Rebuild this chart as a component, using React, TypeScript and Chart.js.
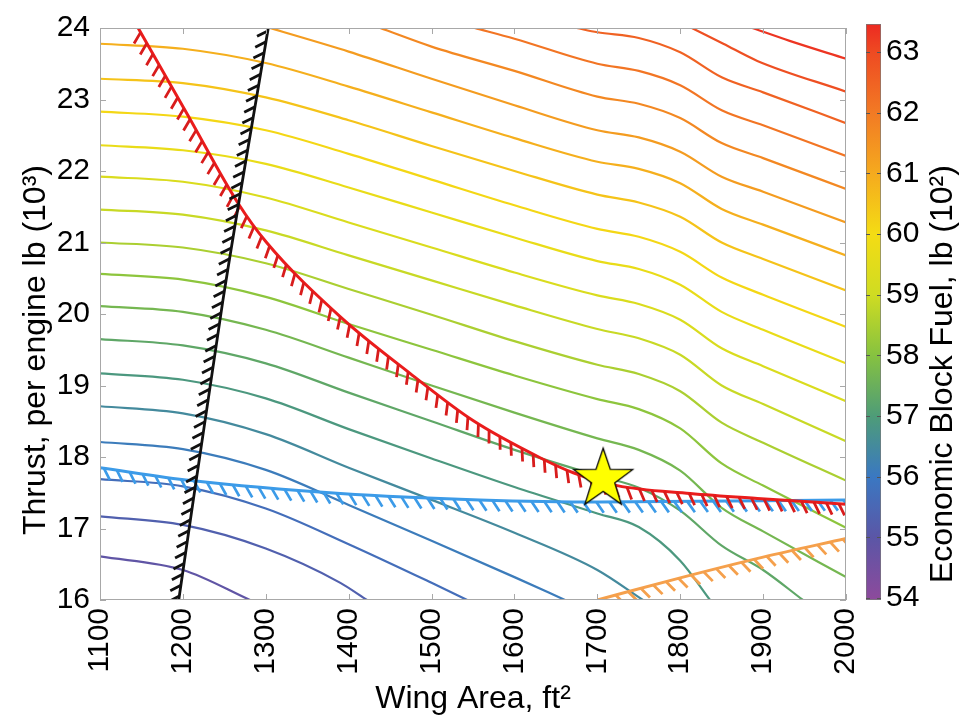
import React, { useEffect, useRef } from "react";
import { Chart, registerables } from "chart.js";

Chart.register(...registerables);

const FONT = 'Arial, "Liberation Sans", Helvetica, sans-serif';

// ---------- axes ----------
const xLimits = [1100, 2000];
const yLimits = [16, 24];
const xTickValues = [1100, 1200, 1300, 1400, 1500, 1600, 1700, 1800, 1900, 2000];
const yTickValues = [16, 17, 18, 19, 20, 21, 22, 23, 24];
const xTitle = "Wing Area, ft\u00B2";
const yTitle = "Thrust, per engine lb (10\u00B3)";

// ---------- colour bar ----------
const cbLimits = [53.97, 63.46];
const cbTickValues = [54, 55, 56, 57, 58, 59, 60, 61, 62, 63];
const cbTitle = "Economic Block Fuel, lb (10\u00B2)";
const cmapValues = [54, 55, 56, 57, 58, 59, 60, 61, 62, 63, 63.46];
const cmapColors = ["#8c4a9c", "#5b56a6", "#3a78c2", "#4e9c78", "#86c240", "#cfdc22", "#f4dc14", "#f5aa1e", "#f27a24", "#ee4a22", "#ec2a22"];

// ---------- contour lines of economic block fuel (x: wing area, y: thrust) ----------
const fuel549 = [[1100, 16.61], [1200, 16.42], [1281, 16.0]];
const fuel553 = [[1100, 17.17], [1200, 17.05], [1300, 16.72], [1390, 16.24], [1422, 16.0]];
const fuel557 = [[1100, 17.69], [1200, 17.59], [1300, 17.28], [1400, 16.78], [1500, 16.24], [1543, 16.0]];
const fuel561 = [[1100, 18.21], [1200, 18.11], [1300, 17.82], [1400, 17.33], [1500, 16.83], [1600, 16.32], [1661, 16.0]];
const fuel565 = [[1100, 18.71], [1200, 18.61], [1300, 18.32], [1400, 17.85], [1500, 17.4], [1600, 16.94], [1700, 16.42], [1755, 16.0]];
const fuel569 = [[1100, 19.17], [1200, 19.08], [1300, 18.82], [1400, 18.39], [1500, 17.98], [1600, 17.58], [1700, 17.21], [1750, 17.02], [1800, 16.55], [1836, 16.0]];
const fuel573 = [[1100, 19.65], [1200, 19.56], [1300, 19.31], [1400, 18.9], [1500, 18.5], [1600, 18.1], [1700, 17.74], [1750, 17.57], [1800, 17.25], [1850, 16.76], [1900, 16.42], [1948, 16.0]];
const fuel577 = [[1100, 20.11], [1200, 20.03], [1300, 19.78], [1400, 19.39], [1500, 19.0], [1600, 18.62], [1700, 18.26], [1750, 18.1], [1800, 17.81], [1850, 17.29], [1900, 16.96], [2000, 16.32]];
const fuel581 = [[1100, 20.56], [1200, 20.48], [1300, 20.24], [1400, 19.86], [1500, 19.5], [1600, 19.14], [1700, 18.81], [1750, 18.67], [1800, 18.4], [1850, 17.91], [1900, 17.6], [2000, 17.01]];
const fuel585 = [[1100, 21.0], [1200, 20.93], [1300, 20.71], [1400, 20.35], [1500, 19.99], [1600, 19.62], [1700, 19.29], [1750, 19.16], [1800, 18.92], [1850, 18.48], [1900, 18.2], [2000, 17.67]];
const fuel589 = [[1100, 21.46], [1200, 21.39], [1300, 21.17], [1400, 20.82], [1500, 20.47], [1600, 20.12], [1700, 19.79], [1750, 19.66], [1800, 19.43], [1850, 19.0], [1900, 18.74], [2000, 18.22]];
const fuel593 = [[1100, 21.92], [1200, 21.85], [1300, 21.63], [1400, 21.28], [1500, 20.93], [1600, 20.58], [1700, 20.26], [1750, 20.14], [1800, 19.92], [1850, 19.52], [1900, 19.27], [2000, 18.78]];
const fuel597 = [[1100, 22.36], [1200, 22.29], [1300, 22.1], [1400, 21.77], [1500, 21.42], [1600, 21.07], [1700, 20.74], [1750, 20.63], [1800, 20.41], [1850, 20.03], [1900, 19.78], [2000, 19.31]];
const fuel601 = [[1100, 22.83], [1200, 22.76], [1300, 22.57], [1400, 22.24], [1500, 21.88], [1600, 21.52], [1700, 21.19], [1750, 21.08], [1800, 20.87], [1850, 20.51], [1900, 20.27], [2000, 19.82]];
const fuel605 = [[1100, 23.29], [1200, 23.23], [1300, 23.03], [1400, 22.71], [1500, 22.35], [1600, 22.0], [1700, 21.67], [1750, 21.56], [1800, 21.36], [1850, 21.0], [1900, 20.77], [2000, 20.33]];
const fuel609 = [[1100, 23.78], [1200, 23.71], [1300, 23.51], [1400, 23.18], [1500, 22.82], [1600, 22.46], [1700, 22.13], [1750, 22.03], [1800, 21.83], [1850, 21.47], [1900, 21.25], [2000, 20.82]];
const fuel613 = [[1305, 24.0], [1400, 23.67], [1500, 23.29], [1600, 22.92], [1700, 22.57], [1750, 22.47], [1800, 22.27], [1850, 21.92], [1900, 21.71], [2000, 21.28]];
const fuel617 = [[1438, 24.0], [1500, 23.74], [1600, 23.4], [1700, 23.04], [1750, 22.94], [1800, 22.74], [1850, 22.39], [1900, 22.18], [2000, 21.75]];
const fuel621 = [[1552, 24.0], [1600, 23.85], [1700, 23.5], [1750, 23.4], [1800, 23.2], [1850, 22.85], [1900, 22.64], [2000, 22.21]];
const fuel625 = [[1675, 24.0], [1700, 23.94], [1750, 23.86], [1800, 23.66], [1850, 23.31], [1900, 23.1], [2000, 22.67]];
const fuel629 = [[1814, 24.0], [1852, 23.78], [1893, 23.54], [2000, 23.11]];
const fuel633 = [[1887, 24.0], [1932, 23.82], [2000, 23.57]];

const contourLevels = [54.9, 55.3, 55.7, 56.1, 56.5, 56.9, 57.3, 57.7, 58.1, 58.5, 58.9, 59.3, 59.7, 60.1, 60.5, 60.9, 61.3, 61.7, 62.1, 62.5, 62.9, 63.3];
const contourLines = [fuel549, fuel553, fuel557, fuel561, fuel565, fuel569, fuel573, fuel577, fuel581, fuel585, fuel589, fuel593, fuel597, fuel601, fuel605, fuel609, fuel613, fuel617, fuel621, fuel625, fuel629, fuel633];

// ---------- constraint boundaries ----------
const landingConstraint = [[1195, 16.0], [1248, 20.17], [1303, 24.0]];
const takeoffConstraint = [[1146, 24.0], [1206, 22.78], [1266, 21.56], [1301, 21.0], [1390, 19.96], [1474, 19.17], [1550, 18.51], [1631, 17.99], [1671, 17.78], [1724, 17.6], [1812, 17.49], [1893, 17.42], [2000, 17.34]];
const climbConstraint = [[1100, 17.85], [1210, 17.67], [1390, 17.49], [1558, 17.4], [1703, 17.37], [2000, 17.4]];
const fuelVolumeConstraint = [[1700, 16.0], [1800, 16.31], [1900, 16.6], [2000, 16.86]];

// ---------- optimum design ----------
const optimumDesign = [[1707, 17.69]];

// ---------- helpers ----------
function hexToRgb(h: string) {
  const n = parseInt(h.slice(1), 16);
  return [(n >> 16) & 255, (n >> 8) & 255, n & 255];
}
function colorAt(v: number) {
  if (v <= cmapValues[0]) return cmapColors[0];
  for (let i = 1; i < cmapValues.length; i++) {
    if (v <= cmapValues[i]) {
      const t = (v - cmapValues[i - 1]) / (cmapValues[i] - cmapValues[i - 1]);
      const a = hexToRgb(cmapColors[i - 1]);
      const b = hexToRgb(cmapColors[i]);
      const c = a.map((x, k) => Math.round(x + (b[k] - x) * t));
      return `rgb(${c[0]},${c[1]},${c[2]})`;
    }
  }
  return cmapColors[cmapColors.length - 1];
}
const toXY = (arr: number[][]) => arr.map(([x, y]) => ({ x, y }));

function makeStar(): HTMLCanvasElement {
  const R = 31, r = 12.2, size = 72;
  const c = document.createElement("canvas");
  c.width = size;
  c.height = size;
  const g = c.getContext("2d")!;
  g.beginPath();
  for (let i = 0; i < 10; i++) {
    const ang = -Math.PI / 2 + (i * Math.PI) / 5;
    const rad = i % 2 === 0 ? R : r;
    const x = size / 2 + rad * Math.cos(ang);
    const y = size / 2 + rad * Math.sin(ang);
    if (i === 0) g.moveTo(x, y);
    else g.lineTo(x, y);
  }
  g.closePath();
  g.fillStyle = "#ffff00";
  g.fill();
  g.strokeStyle = "#000";
  g.lineWidth = 1.3;
  g.stroke();
  return c;
}

// hatch marks along a constraint line (drawn right after that dataset)
const hatchPlugin = {
  id: "hatch",
  afterDatasetDraw(chart: any, args: any) {
    const ds = chart.data.datasets[args.index];
    const h = ds.hatch;
    if (!h) return;
    const meta = args.meta;
    try {
      meta.dataset.updateControlPoints(chart.chartArea, "x");
    } catch (e) {}
    const pts = meta.data;
    const poly: number[][] = [];
    for (let i = 0; i < pts.length; i++) {
      const p = pts[i];
      if (i === 0) {
        poly.push([p.x, p.y]);
        continue;
      }
      const q = pts[i - 1];
      const c1x = q.cp2x ?? q.x, c1y = q.cp2y ?? q.y;
      const c2x = p.cp1x ?? p.x, c2y = p.cp1y ?? p.y;
      for (let k = 1; k <= 30; k++) {
        const t = k / 30, u = 1 - t;
        const x = u * u * u * q.x + 3 * u * u * t * c1x + 3 * u * t * t * c2x + t * t * t * p.x;
        const y = u * u * u * q.y + 3 * u * u * t * c1y + 3 * u * t * t * c2y + t * t * t * p.y;
        poly.push([x, y]);
      }
    }
    const ctx = chart.ctx;
    const a = chart.chartArea;
    ctx.save();
    ctx.beginPath();
    ctx.rect(a.left, a.top, a.right - a.left, a.bottom - a.top);
    ctx.clip();
    ctx.strokeStyle = h.color;
    ctx.lineWidth = h.width;
    const rad = (h.angle * Math.PI) / 180;
    const cs = Math.cos(rad), sn = Math.sin(rad);
    let next = h.offset;
    let acc = 0;
    ctx.beginPath();
    for (let i = 1; i < poly.length; i++) {
      const [x0, y0] = poly[i - 1];
      const [x1, y1] = poly[i];
      const seg = Math.hypot(x1 - x0, y1 - y0);
      if (seg === 0) continue;
      const dx = (x1 - x0) / seg, dy = (y1 - y0) / seg;
      while (next <= acc + seg) {
        const t = next - acc;
        const px = x0 + dx * t, py = y0 + dy * t;
        const tx = dx * cs - dy * sn, ty = dx * sn + dy * cs;
        ctx.moveTo(px, py);
        ctx.lineTo(px + tx * h.len, py + ty * h.len);
        next += h.spacing;
      }
      acc += seg;
    }
    ctx.stroke();
    ctx.restore();
  },
};

// frame, inner tick marks and axis titles
const framePlugin = {
  id: "frame",
  afterDraw(chart: any) {
    const { ctx, chartArea: a, scales } = chart;
    ctx.save();
    ctx.strokeStyle = "#a8a8a8";
    ctx.lineWidth = 1;
    ctx.strokeRect(Math.round(a.left) + 0.5, Math.round(a.top) + 0.5, Math.round(a.right - a.left) - 1, Math.round(a.bottom - a.top) - 1);
    ctx.beginPath();
    xTickValues.forEach((v) => {
      const x = Math.round(scales.x.getPixelForValue(v)) + 0.5;
      ctx.moveTo(x, a.bottom);
      ctx.lineTo(x, a.bottom - 6);
      ctx.moveTo(x, a.top);
      ctx.lineTo(x, a.top + 6);
    });
    yTickValues.forEach((v) => {
      const y = Math.round(scales.y.getPixelForValue(v)) + 0.5;
      ctx.moveTo(a.left, y);
      ctx.lineTo(a.left + 6, y);
      ctx.moveTo(a.right, y);
      ctx.lineTo(a.right - 6, y);
    });
    ctx.stroke();

    ctx.fillStyle = "#000";
    ctx.font = `32px ${FONT}`;
    ctx.textAlign = "center";
    ctx.textBaseline = "alphabetic";
    ctx.fillText(xTitle, (a.left + a.right) / 2, 708);
    ctx.translate(45, 535);
    ctx.rotate(-Math.PI / 2);
    ctx.textAlign = "left";
    ctx.fillText(yTitle, 0, 0);
    ctx.restore();
  },
};

const colorbarPlugin = {
  id: "cbdecor",
  afterDraw(chart: any) {
    const { ctx, chartArea: a, scales } = chart;
    ctx.save();
    ctx.strokeStyle = "#555";
    ctx.lineWidth = 1;
    ctx.beginPath();
    cbTickValues.forEach((v) => {
      const y = Math.round(scales.y.getPixelForValue(v)) + 0.5;
      ctx.moveTo(a.left, y);
      ctx.lineTo(a.left + 4, y);
      ctx.moveTo(a.right, y);
      ctx.lineTo(a.right - 4, y);
    });
    ctx.stroke();
    ctx.fillStyle = "#000";
    ctx.font = `32px ${FONT}`;
    ctx.textBaseline = "alphabetic";
    ctx.textAlign = "left";
    ctx.translate(106, 583);
    ctx.rotate(-Math.PI / 2);
    ctx.fillText(cbTitle, 0, 0);
    ctx.restore();
  },
};

const plainLabel = (v: any) => String(v);

export default function App() {
  const mainRef = useRef<HTMLCanvasElement>(null);
  const cbRef = useRef<HTMLCanvasElement>(null);

  useEffect(() => {
    document.body.style.margin = "0";
    const star = makeStar();

    const contourSets = contourLines.map((line, i) => ({
      label: `fuel ${contourLevels[i]}`,
      data: toXY(line),
      borderColor: colorAt(contourLevels[i]),
      borderWidth: 2.2,
      pointRadius: 0,
      cubicInterpolationMode: "monotone",
      fill: false,
      order: 10,
    }));

    const constraintSets = [
      {
        label: "landing",
        data: toXY(landingConstraint),
        borderColor: "#111111",
        borderWidth: 2.8,
        pointRadius: 0,
        cubicInterpolationMode: "monotone",
        order: 1,
        hatch: { color: "#111111", width: 2.8, len: 12, spacing: 11, angle: 234, offset: 4 },
      },
      {
        label: "takeoff",
        data: toXY(takeoffConstraint),
        borderColor: "#ea1c1c",
        borderWidth: 3,
        pointRadius: 0,
        cubicInterpolationMode: "monotone",
        order: 2,
        hatch: { color: "#d81c1c", width: 2.8, len: 13, spacing: 12.5, angle: 60, offset: 5 },
      },
      {
        label: "climb",
        data: toXY(climbConstraint),
        borderColor: "#3c9be8",
        borderWidth: 3,
        pointRadius: 0,
        cubicInterpolationMode: "monotone",
        order: 3,
        hatch: { color: "#3c9be8", width: 2.7, len: 13, spacing: 13, angle: 55, offset: 4 },
      },
      {
        label: "fuel volume",
        data: toXY(fuelVolumeConstraint),
        borderColor: "#f5a04c",
        borderWidth: 3,
        pointRadius: 0,
        cubicInterpolationMode: "monotone",
        order: 3,
        hatch: { color: "#f5a04c", width: 2.8, len: 13, spacing: 13, angle: 60, offset: 6 },
      },
    ];

    const starSet = {
      label: "optimum",
      data: toXY(optimumDesign),
      showLine: false,
      pointStyle: star,
      pointRadius: 10,
      order: 0,
    };

    const main = new Chart(mainRef.current as HTMLCanvasElement, {
      type: "line",
      data: { datasets: [starSet, ...constraintSets, ...contourSets] as any },
      options: {
        responsive: false,
        maintainAspectRatio: false,
        animation: false,
        devicePixelRatio: 1,
        layout: { padding: { left: 0, right: 113, top: 24, bottom: 0 } },
        plugins: { legend: { display: false }, tooltip: { enabled: false } },
        scales: {
          x: {
            type: "linear",
            min: xLimits[0],
            max: xLimits[1],
            afterBuildTicks: (s: any) => {
              s.ticks = xTickValues.map((v) => ({ value: v }));
            },
            afterFit: (s: any) => {
              s.height = 117;
            },
            ticks: {
              font: { family: FONT, size: 30 },
              color: "#000",
              minRotation: 90,
              maxRotation: 90,
              padding: 8,
              autoSkip: false,
              callback: plainLabel,
            },
            grid: { display: false, drawTicks: false },
            border: { display: false },
          },
          y: {
            type: "linear",
            min: yLimits[0],
            max: yLimits[1],
            afterBuildTicks: (s: any) => {
              s.ticks = yTickValues.map((v) => ({ value: v }));
            },
            afterFit: (s: any) => {
              s.width = 100;
            },
            ticks: { font: { family: FONT, size: 30 }, color: "#000", padding: 10, autoSkip: false, callback: plainLabel },
            grid: { display: false, drawTicks: false },
            border: { display: false },
          },
        },
      } as any,
      plugins: [hatchPlugin, framePlugin],
    });

    const cb = new Chart(cbRef.current as HTMLCanvasElement, {
      type: "bar",
      data: {
        labels: [""],
        datasets: [
          {
            data: [[cbLimits[0], cbLimits[1]]] as any,
            backgroundColor: (c: any) => {
              const ch = c.chart;
              const ys = ch.scales && ch.scales.y;
              if (!ch.chartArea || !ys) return cmapColors[5];
              const y0 = ys.getPixelForValue(cbLimits[0]);
              const y1 = ys.getPixelForValue(cbLimits[1]);
              const g = ch.ctx.createLinearGradient(0, y0, 0, y1);
              cmapValues.forEach((v, i) => {
                const t = Math.min(1, Math.max(0, (v - cbLimits[0]) / (cbLimits[1] - cbLimits[0])));
                g.addColorStop(t, cmapColors[i]);
              });
              return g;
            },
            borderColor: "#7a7a7a",
            borderWidth: 1,
            borderSkipped: false,
            barPercentage: 1,
            categoryPercentage: 1,
          },
        ],
      },
      options: {
        responsive: false,
        maintainAspectRatio: false,
        animation: false,
        devicePixelRatio: 1,
        layout: { padding: { left: 20, right: 0, top: 24, bottom: 117 } },
        plugins: { legend: { display: false }, tooltip: { enabled: false } },
        scales: {
          x: { display: false },
          y: {
            position: "right",
            min: cbLimits[0],
            max: cbLimits[1],
            afterBuildTicks: (s: any) => {
              s.ticks = cbTickValues.map((v) => ({ value: v }));
            },
            afterFit: (s: any) => {
              s.width = 78;
            },
            ticks: { font: { family: FONT, size: 30 }, color: "#000", padding: 5, autoSkip: false, callback: plainLabel },
            grid: { display: false, drawTicks: false },
            border: { display: false },
          },
        },
      } as any,
      plugins: [colorbarPlugin],
    });

    return () => {
      main.destroy();
      cb.destroy();
    };
  }, []);

  return (
    <div style={{ position: "relative", width: 959, height: 717, background: "#fff", overflow: "hidden" }}>
      <canvas ref={mainRef} width={959} height={717} style={{ position: "absolute", left: 0, top: 0, width: 959, height: 717 }} />
      <canvas ref={cbRef} width={113} height={717} style={{ position: "absolute", left: 846, top: 0, width: 113, height: 717 }} />
    </div>
  );
}
